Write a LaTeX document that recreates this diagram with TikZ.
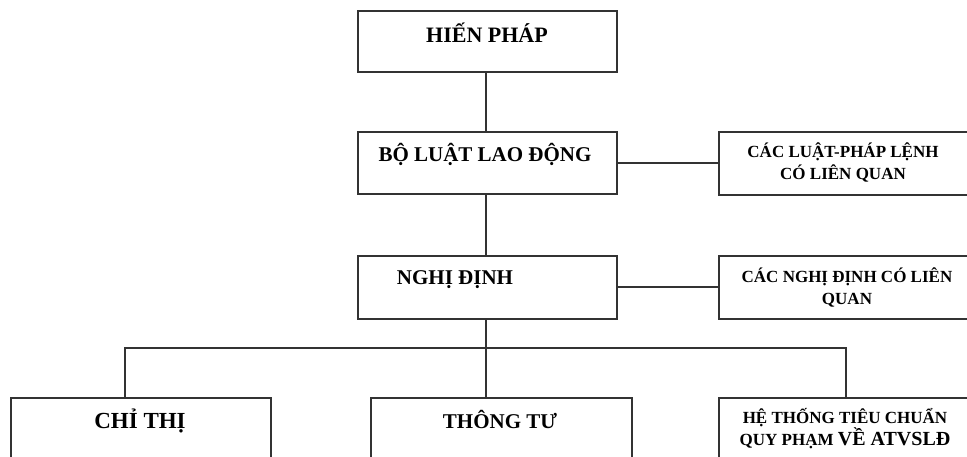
\documentclass[tikz,border=0pt]{standalone}
\usepackage{fontspec}
\setmainfont{Liberation Serif}
\begin{document}
\begin{tikzpicture}[x=1pt,y=-1pt,
  box/.style={draw=black!80,line width=1.6pt,rectangle,inner sep=0pt,anchor=north west},
  conn/.style={draw=black!80,line width=1.6pt},
  big/.style={font=\fontsize{21}{24}\selectfont\bfseries,anchor=base,inner sep=0pt},
  small/.style={font=\fontsize{17}{20}\selectfont\bfseries,anchor=base,inner sep=0pt}]
\useasboundingbox (0,0) rectangle (967,457);
\clip (0,0) rectangle (967,457);
% boxes
\node[box,minimum width=259pt,minimum height=61pt] (hp) at (357,10) {};
\node[box,minimum width=259pt,minimum height=62pt] (bl) at (357,131) {};
\node[box,minimum width=262pt,minimum height=63pt] (cl) at (718,131) {};
\node[box,minimum width=259pt,minimum height=63pt] (nd) at (357,255) {};
\node[box,minimum width=262pt,minimum height=63pt] (cn) at (718,255) {};
\node[box,minimum width=260pt,minimum height=80pt] (ct) at (10,397) {};
\node[box,minimum width=261pt,minimum height=80pt] (tt) at (370,397) {};
\node[box,minimum width=262pt,minimum height=80pt] (ht) at (718,397) {};
% texts
\node[big,font=\fontsize{22}{26}\selectfont\bfseries] (thp) at (487,43) {HIẾN PHÁP};
\node[big] (tbl) at (485,162) {BỘ LUẬT LAO ĐỘNG};
\node[big] (tnd) at (455,285) {NGHỊ ĐỊNH};
\node[small] (tcl1) at (843,158) {CÁC LUẬT-PHÁP LỆNH};
\node[small] (tcl2) at (843,180) {CÓ LIÊN QUAN};
\node[small] (tcn1) at (847,283) {CÁC NGHỊ ĐỊNH CÓ LIÊN};
\node[small] (tcn2) at (847,305) {QUAN};
\node[big,font=\fontsize{23}{26}\selectfont\bfseries] (tct) at (140,428) {CHỈ THỊ};
\node[big] (ttt) at (500,428) {THÔNG TƯ};
\node[small] (tht1) at (845,423) {HỆ THỐNG TIÊU CHUẨN};
\node[small] (tht2) at (845,445) {QUY PHẠM {\fontsize{20}{22}\selectfont VỀ ATVSLĐ}};
% connectors
\coordinate (busL) at (125,348);
\coordinate (busR) at (846,348);
\draw[conn] (hp.south -| 486,0) -- (bl.north -| 486,0);
\draw[conn] (bl.south -| 486,0) -- (nd.north -| 486,0);
\draw[conn] (bl.east |- 0,163) -- (cl.west |- 0,163);
\draw[conn] (nd.east |- 0,287) -- (cn.west |- 0,287);
\draw[conn] (nd.south -| 486,0) -- (tt.north -| 486,0);
\draw[conn] (busL |- ct.north) -- (busL) -- (busR) -- (busR |- ht.north);
\end{tikzpicture}
\end{document}
